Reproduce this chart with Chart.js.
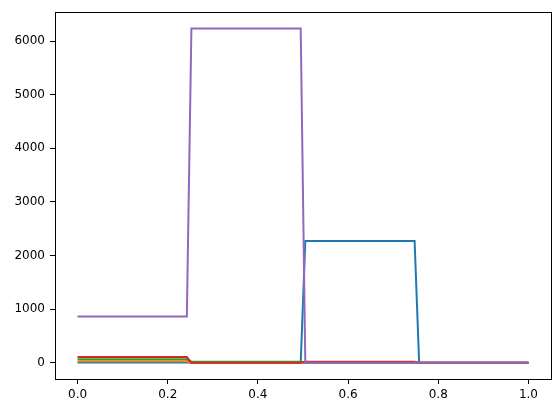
<!DOCTYPE html>
<html>
<head>
<meta charset="utf-8">
<script src="https://cdn.jsdelivr.net/npm/chart.js@4"></script>
<style>
  html, body { margin: 0; padding: 0; background: #fff; }
  #wrap { width: 560px; height: 413px; }
</style>
</head>
<body>
<div id="wrap"><canvas id="stepChart"></canvas></div>
<script>
// x sample positions (100 evenly spaced samples on 0..1)
const xValues = [
  0.0000, 0.0101, 0.0202, 0.0303, 0.0404, 0.0505, 0.0606, 0.0707, 0.0808, 0.0909,
  0.1010, 0.1111, 0.1212, 0.1313, 0.1414, 0.1515, 0.1616, 0.1717, 0.1818, 0.1919,
  0.2020, 0.2121, 0.2222, 0.2323, 0.2424, 0.2525, 0.2626, 0.2727, 0.2828, 0.2929,
  0.3030, 0.3131, 0.3232, 0.3333, 0.3434, 0.3535, 0.3636, 0.3737, 0.3838, 0.3939,
  0.4040, 0.4141, 0.4242, 0.4343, 0.4444, 0.4545, 0.4646, 0.4747, 0.4848, 0.4949,
  0.5051, 0.5152, 0.5253, 0.5354, 0.5455, 0.5556, 0.5657, 0.5758, 0.5859, 0.5960,
  0.6061, 0.6162, 0.6263, 0.6364, 0.6465, 0.6566, 0.6667, 0.6768, 0.6869, 0.6970,
  0.7071, 0.7172, 0.7273, 0.7374, 0.7475, 0.7576, 0.7677, 0.7778, 0.7879, 0.7980,
  0.8081, 0.8182, 0.8283, 0.8384, 0.8485, 0.8586, 0.8687, 0.8788, 0.8889, 0.8990,
  0.9091, 0.9192, 0.9293, 0.9394, 0.9495, 0.9596, 0.9697, 0.9798, 0.9899, 1.0000
];

// series values, one row of 25 per quarter of the x range
const blueValues = [
  5, 5, 5, 5, 5, 5, 5, 5, 5, 5, 5, 5, 5, 5, 5, 5, 5, 5, 5, 5, 5, 5, 5, 5, 5,
  0, 0, 0, 0, 0, 0, 0, 0, 0, 0, 0, 0, 0, 0, 0, 0, 0, 0, 0, 0, 0, 0, 0, 0, 0,
  2270, 2270, 2270, 2270, 2270, 2270, 2270, 2270, 2270, 2270, 2270, 2270, 2270, 2270, 2270, 2270, 2270, 2270, 2270, 2270, 2270, 2270, 2270, 2270, 2270,
  0, 0, 0, 0, 0, 0, 0, 0, 0, 0, 0, 0, 0, 0, 0, 0, 0, 0, 0, 0, 0, 0, 0, 0, 0
];
const orangeValues = [
  30, 30, 30, 30, 30, 30, 30, 30, 30, 30, 30, 30, 30, 30, 30, 30, 30, 30, 30, 30, 30, 30, 30, 30, 30,
  0, 0, 0, 0, 0, 0, 0, 0, 0, 0, 0, 0, 0, 0, 0, 0, 0, 0, 0, 0, 0, 0, 0, 0, 0,
  0, 0, 0, 0, 0, 0, 0, 0, 0, 0, 0, 0, 0, 0, 0, 0, 0, 0, 0, 0, 0, 0, 0, 0, 0,
  0, 0, 0, 0, 0, 0, 0, 0, 0, 0, 0, 0, 0, 0, 0, 0, 0, 0, 0, 0, 0, 0, 0, 0, 0
];
const greenValues = [
  65, 65, 65, 65, 65, 65, 65, 65, 65, 65, 65, 65, 65, 65, 65, 65, 65, 65, 65, 65, 65, 65, 65, 65, 65,
  20, 20, 20, 20, 20, 20, 20, 20, 20, 20, 20, 20, 20, 20, 20, 20, 20, 20, 20, 20, 20, 20, 20, 20, 20,
  0, 0, 0, 0, 0, 0, 0, 0, 0, 0, 0, 0, 0, 0, 0, 0, 0, 0, 0, 0, 0, 0, 0, 0, 0,
  0, 0, 0, 0, 0, 0, 0, 0, 0, 0, 0, 0, 0, 0, 0, 0, 0, 0, 0, 0, 0, 0, 0, 0, 0
];
const redValues = [
  108, 108, 108, 108, 108, 108, 108, 108, 108, 108, 108, 108, 108, 108, 108, 108, 108, 108, 108, 108, 108, 108, 108, 108, 108,
  0, 0, 0, 0, 0, 0, 0, 0, 0, 0, 0, 0, 0, 0, 0, 0, 0, 0, 0, 0, 0, 0, 0, 0, 0,
  20, 20, 20, 20, 20, 20, 20, 20, 20, 20, 20, 20, 20, 20, 20, 20, 20, 20, 20, 20, 20, 20, 20, 20, 20,
  0, 0, 0, 0, 0, 0, 0, 0, 0, 0, 0, 0, 0, 0, 0, 0, 0, 0, 0, 0, 0, 0, 0, 0, 0
];
const purpleValues = [
  865, 865, 865, 865, 865, 865, 865, 865, 865, 865, 865, 865, 865, 865, 865, 865, 865, 865, 865, 865, 865, 865, 865, 865, 865,
  6235, 6235, 6235, 6235, 6235, 6235, 6235, 6235, 6235, 6235, 6235, 6235, 6235, 6235, 6235, 6235, 6235, 6235, 6235, 6235, 6235, 6235, 6235, 6235, 6235,
  0, 0, 0, 0, 0, 0, 0, 0, 0, 0, 0, 0, 0, 0, 0, 0, 0, 0, 0, 0, 0, 0, 0, 0, 0,
  0, 0, 0, 0, 0, 0, 0, 0, 0, 0, 0, 0, 0, 0, 0, 0, 0, 0, 0, 0, 0, 0, 0, 0, 0
];

const xTicks = [0, 0.2, 0.4, 0.6, 0.8, 1.0];
const yTicks = [0, 1000, 2000, 3000, 4000, 5000, 6000];

// matplotlib tab10 colours, in plotting order
const seriesList = [
  { values: blueValues,   color: '#1f77b4' },
  { values: orangeValues, color: '#ff7f0e' },
  { values: greenValues,  color: '#2ca02c' },
  { values: redValues,    color: '#d62728' },
  { values: purpleValues, color: '#9467bd' }
];

const TICK_FONT = { family: 'DejaVu Sans', size: 12 };

// draws the top and right spines too
const framePlugin = {
  id: 'frame',
  afterDraw(chart) {
    const a = chart.chartArea;
    const c = chart.ctx;
    c.save();
    c.strokeStyle = '#000';
    c.lineWidth = 1;
    c.strokeRect(Math.round(a.left) + 0.5, Math.round(a.top) + 0.5,
                 Math.round(a.right - a.left), Math.round(a.bottom - a.top));
    c.restore();
  }
};

new Chart(document.getElementById('stepChart'), {
  type: 'line',
  data: {
    datasets: seriesList.map((s, i) => ({
      data: s.values.map((v, k) => ({ x: xValues[k], y: v })),
      borderColor: s.color,
      borderWidth: 2,
      pointRadius: 0,
      fill: false,
      tension: 0,
      order: seriesList.length - i
    }))
  },
  options: {
    responsive: true,
    maintainAspectRatio: false,
    animation: false,
    layout: { padding: { top: 10, right: 9, left: 0, bottom: 0 } },
    plugins: {
      legend: { display: false },
      tooltip: { enabled: false }
    },
    scales: {
      x: {
        type: 'linear',
        min: -0.05,
        max: 1.05,
        afterBuildTicks: axis => { axis.ticks = xTicks.map(v => ({ value: v })); },
        afterFit: axis => { axis.height = 34; },
        ticks: {
          color: '#000',
          font: TICK_FONT,
          padding: 4,
          maxRotation: 0,
          callback: v => v.toFixed(1)
        },
        grid: { drawOnChartArea: false, tickLength: 5, tickColor: '#000' },
        border: { color: '#000', width: 1 }
      },
      y: {
        type: 'linear',
        min: -302,
        max: 6538,
        afterBuildTicks: axis => { axis.ticks = yTicks.map(v => ({ value: v })); },
        afterFit: axis => { axis.width = 55; },
        ticks: {
          color: '#000',
          font: TICK_FONT,
          padding: 5,
          callback: v => String(v)
        },
        grid: { drawOnChartArea: false, tickLength: 5, tickColor: '#000' },
        border: { color: '#000', width: 1 }
      }
    }
  },
  plugins: [framePlugin]
});
</script>
</body>
</html>
